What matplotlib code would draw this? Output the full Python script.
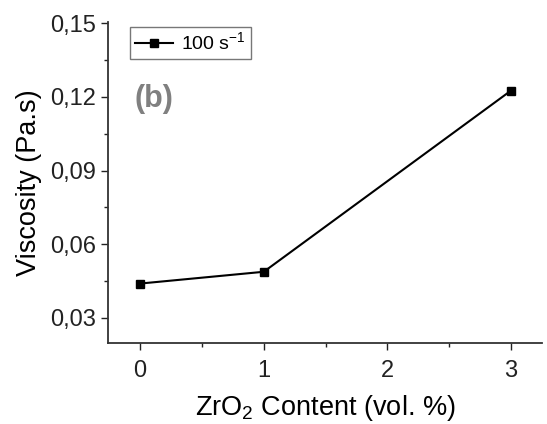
import numpy as np
import matplotlib.pyplot as plt
from matplotlib.ticker import FuncFormatter, MultipleLocator

plt.rcParams['font.family'] = ['Liberation Sans', 'DejaVu Sans']
plt.rcParams['mathtext.fontset'] = 'custom'
plt.rcParams['mathtext.rm'] = 'Liberation Sans'

zro2 = [0, 1, 3]
viscosity = [0.0440, 0.0488, 0.1226]

fig = plt.figure(figsize=(5.47, 4.24), dpi=100)
ax = fig.add_axes([108 / 547, 1 - 343 / 424, 434 / 547, 321 / 424])

ax.plot(zro2, viscosity, '-s', color='black', lw=1.5, ms=6, label='100 s$^{\\mathrm{-1}}$')

ax.set_xlim(-0.26, 3.25)
ax.set_ylim(0.0198, 0.1505)
ax.xaxis.set_major_locator(MultipleLocator(1))
ax.xaxis.set_minor_locator(MultipleLocator(0.5))
ax.yaxis.set_major_locator(MultipleLocator(0.03))
ax.yaxis.set_minor_locator(MultipleLocator(0.015))
ax.yaxis.set_major_formatter(FuncFormatter(lambda v, p: f'{v:.2f}'.replace('.', ',')))

for s in ['top', 'right']:
    ax.spines[s].set_visible(False)
for s in ['left', 'bottom']:
    ax.spines[s].set_linewidth(1.3)
    ax.spines[s].set_color('#333333')
ax.tick_params(which='major', direction='out', length=5, width=1, labelsize=17, colors='#222222')
ax.tick_params(which='minor', direction='out', length=3, width=1, colors='#222222')
ax.tick_params(axis='x', pad=7)

ax.set_xlabel('ZrO$_2$ Content (vol. %)', fontsize=19.5, labelpad=8)
ax.set_ylabel('Viscosity (Pa.s)', fontsize=19.5, labelpad=6)

leg = ax.legend(loc='upper left', bbox_to_anchor=(0.05, 0.985), fontsize=14,
                fancybox=False, edgecolor='#555555', handlelength=2.0,
                borderpad=0.25, handletextpad=0.4, borderaxespad=0)
leg.get_frame().set_linewidth(1)

ax.text(0.062, 0.735, '(b)', transform=ax.transAxes, fontsize=22, fontweight='bold',
        color='#808080')

fig.savefig('out.png', dpi=100)
